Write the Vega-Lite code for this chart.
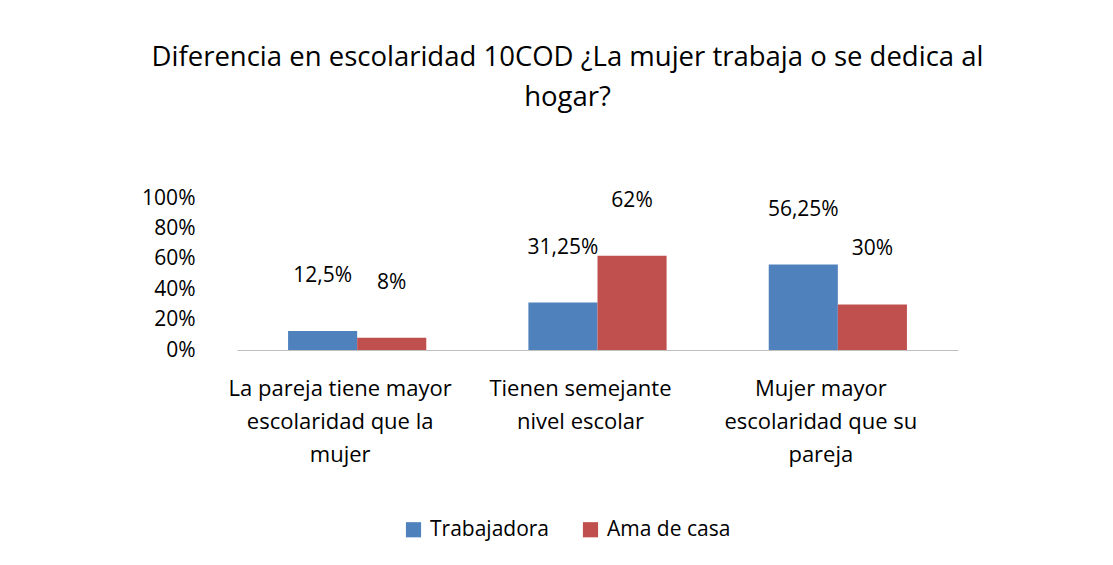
{
  "$schema": "https://vega.github.io/schema/vega-lite/v6.json",
  "width": 721,
  "height": 152,
  "autosize": "none",
  "padding": {"left": 237, "top": 198, "right": 155, "bottom": 215},
  "background": "white",
  "config": {
    "font": "Open Sans",
    "view": {"stroke": null},
    "axis": {"labelColor": "black", "titleColor": "black"},
    "legend": {"labelColor": "black"}
  },
  "title": {
    "text": ["Diferencia en escolaridad 10COD ¿La mujer trabaja o se dedica al", "hogar?"],
    "fontSize": 27.5,
    "fontWeight": "normal",
    "color": "black",
    "lineHeight": 40,
    "anchor": "middle",
    "dx": -30,
    "offset": 76
  },
  "data": {
    "values": [
      {"cat": "La pareja tiene mayor escolaridad que la mujer", "serie": "Trabajadora", "valor": 0.125, "etiqueta": "12,5%"},
      {"cat": "La pareja tiene mayor escolaridad que la mujer", "serie": "Ama de casa", "valor": 0.08, "etiqueta": "8%"},
      {"cat": "Tienen semejante nivel escolar", "serie": "Trabajadora", "valor": 0.3125, "etiqueta": "31,25%"},
      {"cat": "Tienen semejante nivel escolar", "serie": "Ama de casa", "valor": 0.62, "etiqueta": "62%"},
      {"cat": "Mujer mayor escolaridad que su pareja", "serie": "Trabajadora", "valor": 0.5625, "etiqueta": "56,25%"},
      {"cat": "Mujer mayor escolaridad que su pareja", "serie": "Ama de casa", "valor": 0.30, "etiqueta": "30%"}
    ]
  },
  "encoding": {
    "x": {
      "field": "cat",
      "type": "nominal",
      "sort": null,
      "scale": {"paddingInner": 0, "paddingOuter": 0},
      "axis": {
        "title": null,
        "labelAngle": 0,
        "labelFontSize": 22,
        "labelLineHeight": 33,
        "labelOffset": -17,
        "labelPadding": 28,
        "labelBaseline": "top",
        "labelLimit": 300,
        "ticks": false,
        "domainColor": "#bfbfbf",
        "labelExpr": "datum.label == 'La pareja tiene mayor escolaridad que la mujer' ? ['La pareja tiene mayor', 'escolaridad que la', 'mujer'] : datum.label == 'Tienen semejante nivel escolar' ? ['Tienen semejante', 'nivel escolar'] : ['Mujer mayor', 'escolaridad que su', 'pareja']"
      }
    },
    "xOffset": {
      "field": "serie",
      "type": "nominal",
      "sort": ["Trabajadora", "Ama de casa"],
      "scale": {"paddingInner": 0, "paddingOuter": 0.739}
    },
    "y": {
      "field": "valor",
      "type": "quantitative",
      "scale": {"domain": [0, 1], "nice": false},
      "axis": {
        "title": null,
        "format": ".0%",
        "values": [0, 0.2, 0.4, 0.6, 0.8, 1],
        "grid": false,
        "ticks": false,
        "domain": false,
        "labelFontSize": 21,
        "labelPadding": 42
      }
    }
  },
  "layer": [
    {
      "mark": {"type": "bar"},
      "encoding": {
        "color": {
          "field": "serie",
          "type": "nominal",
          "sort": ["Trabajadora", "Ama de casa"],
          "scale": {"domain": ["Trabajadora", "Ama de casa"], "range": ["#4F81BD", "#C0504D"]},
          "legend": {
            "title": null,
            "orient": "none",
            "direction": "horizontal",
            "legendX": 166,
            "legendY": 321,
            "symbolType": "square",
            "symbolSize": 230,
            "symbolOpacity": 1,
            "labelFontSize": 21,
            "columnPadding": 30,
            "labelOffset": 6,
            "labelLimit": 300
          }
        }
      }
    },
    {
      "mark": {"type": "text", "fontSize": 21, "dy": -55, "color": "black"},
      "encoding": {
        "text": {"field": "etiqueta"}
      }
    }
  ]
}
